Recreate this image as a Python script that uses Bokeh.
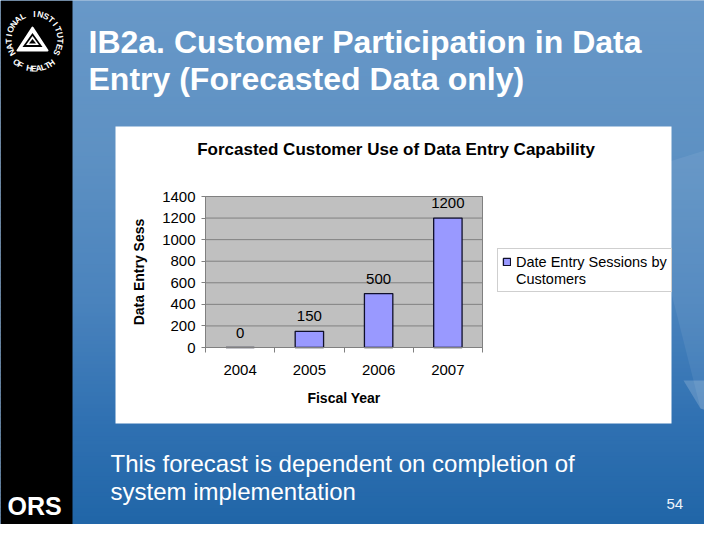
import numpy as np
from bokeh.plotting import figure
from bokeh.models import (Range1d, FixedTicker, ColumnDataSource, LabelSet, LinearAxis,
                          Legend, LegendItem)
from bokeh.core.properties import value
from bokeh.embed import file_html
from bokeh.resources import INLINE

# ---------------- data ----------------
years = ["2004", "2005", "2006", "2007"]
sessions = [0, 150, 500, 1200]
y_ticks = [0, 200, 400, 600, 800, 1000, 1200, 1400]
chart_title = "Forcasted Customer Use of Data Entry Capability"
x_title = "Fiscal Year"
y_title = "Data Entry Sess"
legend_lines = ["Date Entry Sessions by", "Customers"]
slide_title = ["IB2a. Customer Participation in Data", "Entry (Forecasted Data only)"]
slide_note = ["This forecast is dependent on completion of", "system implementation"]
page_number = "54"
logo_top = "NATIONAL INSTITUTES"
logo_bottom = "OF HEALTH"
logo_word = "ORS"

FONT = "Liberation Sans"

# ---------------- page geometry (pixels) ----------------
W, H = 704, 524
FL, FR, FT, FB = 205, 482, 196, 347          # chart plot area
YMAX = y_ticks[-1]
n = len(years)
ux = n / (FR - FL)
uy = YMAX / (FB - FT)

p = figure(width=W, height=H, x_range=Range1d(0, W), y_range=Range1d(H, 0),
           output_backend="svg", toolbar_location=None, min_border=0,
           x_axis_location=None, y_axis_location=None)
p.grid.visible = False
p.outline_line_color = None
p.background_fill_color = "#4a84bd"
p.border_fill_color = "#4a84bd"
p.extra_x_ranges = {"cx": Range1d(-FL * ux, (W - FL) * ux)}
p.extra_y_ranges = {"cy": Range1d(-(H - FB) * uy, YMAX + FT * uy)}

# ---------------- slide background ----------------
stops_y = [0, 150, 300, 420, 540]
stops_c = [(104, 152, 200), (94, 145, 195), (74, 131, 189), (48, 113, 178), (30, 100, 166)]
edges = np.arange(0, H + 1, 4)
cols = []
for y0 in edges[:-1]:
    c = [np.interp(y0 + 2, stops_y, [s[k] for s in stops_c]) for k in range(3)]
    cols.append("#%02x%02x%02x" % tuple(int(round(v)) for v in c))
p.quad(left=0, right=W, top=edges[:-1], bottom=edges[1:] + 0.8,
       fill_color=cols, line_color=None)

p.patch(x=[640, 704, 704, 700], y=[170, 150, 410, 408], fill_color="white",
        fill_alpha=0.07, line_color=None)
p.patch(x=[683, 704, 704, 700], y=[380, 380, 409, 408], fill_color="white",
        fill_alpha=0.18, line_color=None)

# black band on the left
p.quad(left=0, right=72, top=0, bottom=H, fill_color="black", line_color=None)

# NIH seal (approximation)
cx, cy = 34, 39
a_top = np.radians(np.linspace(210, -30, len(logo_top)))
r1 = 26
p.text(x=cx + r1 * np.cos(a_top), y=cy - r1 * np.sin(a_top), text=list(logo_top),
       angle=a_top - np.pi / 2, text_align="center", text_baseline="middle",
       text_color="white", text_font=value(FONT), text_font_style="bold",
       text_font_size=value("8.5px"))
a_bot = np.radians(np.linspace(232, 306, len(logo_bottom)))
r2 = 29
p.text(x=cx + r2 * np.cos(a_bot), y=cy - r2 * np.sin(a_bot), text=list(logo_bottom),
       angle=a_bot + np.pi / 2, text_align="center", text_baseline="middle",
       text_color="white", text_font=value(FONT), text_font_style="bold",
       text_font_size=value("8.5px"))
p.patch(x=[17, 32, 47], y=[50, 27, 50], fill_color="white", line_color="white",
        line_width=2, line_join="round")
p.patch(x=[22, 32, 42], y=[46.5, 32.5, 46.5], fill_color="black", line_color=None)
p.patch(x=[25.5, 32, 38.5], y=[44.5, 35.5, 44.5], fill_color="white", line_color=None)
p.patch(x=[28.5, 32, 35.5], y=[43, 38.5, 43], fill_color="black", line_color=None)

# texts: y values are the visual centres of the capitals
p.text(x=[7], y=[505], text=[logo_word], text_color="white", text_font=value(FONT),
       text_font_style="bold", text_font_size=value("25px"), text_baseline="alphabetic")
p.text(x=[88, 88], y=[41.5, 78.5], text=slide_title, text_color="white",
       text_font=value(FONT), text_font_style="bold", text_font_size=value("32px"),
       text_baseline="alphabetic")
p.text(x=[110, 110], y=[462.5, 491], text=slide_note, text_color="white",
       text_font=value(FONT), text_font_size=value("24px"), text_baseline="alphabetic")
p.text(x=[666], y=[503.5], text=[page_number], text_color="#eef4fa",
       text_font=value(FONT), text_font_size=value("15px"), text_baseline="alphabetic")

# ---------------- chart ----------------
p.quad(left=115, right=671, top=126, bottom=423, fill_color="white", line_color=None)
p.text(x=[(193 + 598) / 2], y=[148.5], text=[chart_title], text_align="center",
       text_baseline="alphabetic", text_color="black", text_font=value(FONT),
       text_font_style="bold", text_font_size=value("17px"))

C = dict(x_range_name="cx", y_range_name="cy")
p.quad(left=0, right=n, bottom=0, top=YMAX, fill_color="#c0c0c0",
       line_color="#808080", line_width=1, **C)
p.segment(x0=[0] * len(y_ticks), x1=[n] * len(y_ticks), y0=y_ticks, y1=y_ticks,
          line_color="#808080", line_width=1, **C)

pos = [i + 0.5 for i in range(n)]
src = ColumnDataSource(dict(x=pos, top=sessions, label=[str(v) for v in sessions]))
bars = p.vbar(x="x", top="top", width=0.41, source=src, fill_color="#9999ff",
              line_color="#10102a", line_width=1.3, **C)
spacer = p.vbar(x=[], top=[], width=0.41, fill_alpha=0, line_alpha=0, **C)

p.add_layout(LabelSet(x="x", y="top", text="label", source=src, text_align="center",
                      text_baseline="alphabetic", y_offset=10, text_color="black",
                      text_font=value(FONT), text_font_size=value("15px"), **C))

xa = LinearAxis(fixed_location=0, bounds=(0, n), **C)
xa.ticker = FixedTicker(ticks=pos, minor_ticks=list(range(n + 1)))
xa.major_label_overrides = {pos[i]: years[i] for i in range(n)}
xa.major_tick_out = 0
xa.major_tick_in = 0
xa.minor_tick_out = 5
xa.minor_tick_in = 0
xa.minor_tick_line_color = "#808080"
xa.axis_line_color = "#808080"
xa.major_label_standoff = 12
xa.major_label_text_font = FONT
xa.major_label_text_font_size = "15px"
xa.major_label_text_color = "black"
xa.axis_label = x_title
xa.axis_label_text_font = FONT
xa.axis_label_text_font_style = "bold"
xa.axis_label_text_font_size = "14px"
xa.axis_label_text_color = "black"
xa.axis_label_standoff = 12
p.add_layout(xa, "below")

ya = LinearAxis(fixed_location=0, bounds=(0, YMAX), **C)
ya.ticker = FixedTicker(ticks=y_ticks)
ya.major_tick_out = 4
ya.major_tick_in = 0
ya.major_tick_line_color = "#808080"
ya.minor_tick_out = 0
ya.axis_line_color = "#808080"
ya.major_label_standoff = 6
ya.major_label_text_font = FONT
ya.major_label_text_font_size = "15px"
ya.major_label_text_color = "black"
ya.axis_label = y_title
ya.axis_label_text_font = FONT
ya.axis_label_text_font_style = "bold"
ya.axis_label_text_font_size = "14px"
ya.axis_label_text_color = "black"
ya.axis_label_standoff = 12
p.add_layout(ya, "left")

legend = Legend(items=[LegendItem(label=legend_lines[0], renderers=[bars]),
                       LegendItem(label=legend_lines[1], renderers=[spacer])],
                location=(497, H - 292), glyph_width=9, glyph_height=9, label_height=17,
                label_standoff=5, padding=4, spacing=0, margin=0,
                border_line_color="#a0a0a0", border_line_width=1,
                background_fill_color="white", background_fill_alpha=1,
                label_text_font=FONT, label_text_font_size="14.5px",
                label_text_color="black")
p.add_layout(legend, "center")

open("out.html", "w").write(file_html(p, INLINE))
